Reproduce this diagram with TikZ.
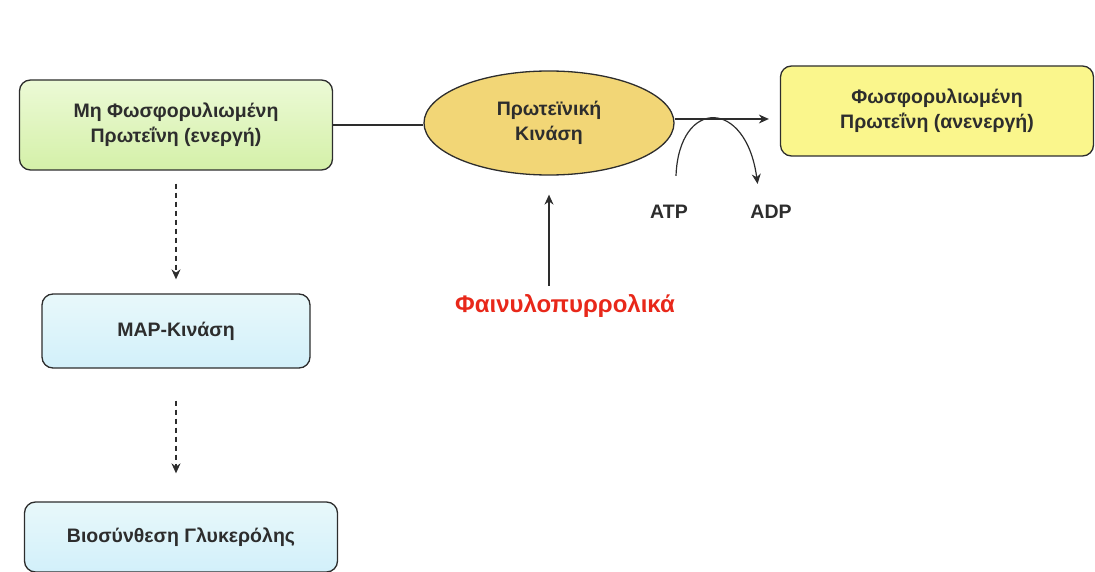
\documentclass[tikz,border=0pt]{standalone}
\usepackage{fontspec}
\setmainfont{Liberation Sans}
\usepackage{xcolor}
\usetikzlibrary{positioning, shapes.geometric, arrows.meta}

\definecolor{leafgreen}{RGB}{212,240,168}
\definecolor{leaflight}{RGB}{236,250,214}
\definecolor{kinasegold}{RGB}{242,214,118}
\definecolor{lemon}{RGB}{250,246,140}
\definecolor{iceblue}{RGB}{210,240,250}
\definecolor{icelight}{RGB}{232,248,250}
\definecolor{inhibred}{RGB}{232,40,26}
\definecolor{ink}{RGB}{45,45,45}

\tikzset{
  box/.style={draw=ink, line width=1.3pt, rounded corners=11pt, align=center,
    minimum width=313pt, minimum height=90pt, text=ink,
    font=\bfseries\fontsize{19.5}{25}\selectfont},
  smallbox/.style={box, minimum width=268pt, minimum height=74pt},
  enzyme/.style={ellipse, draw=ink, line width=1.3pt, fill=kinasegold, align=center,
    minimum width=250pt, minimum height=104pt, inner sep=0pt, text=ink,
    font=\bfseries\fontsize{19.5}{25}\selectfont},
  cofactor/.style={text=ink, font=\bfseries\fontsize{19.5}{23}\selectfont},
  link/.style={draw=ink, line width=1.2pt},
  flow/.style={link, dashed, dash pattern=on 5pt off 4pt}
}

\begin{document}
\begin{tikzpicture}[x=1pt, y=-1pt, node distance=206pt, on grid, >={Stealth[length=10pt, width=9pt]}]
        \useasboundingbox (0,0) rectangle (1095,572);

        % Κόμβοι
        \node[box, top color=leaflight, bottom color=leafgreen] (inactive) at (176,125)
            {Μη Φωσφορυλιωμένη\\Πρωτεΐνη (ενεργή)};
        \node[smallbox, top color=icelight, bottom color=iceblue] (mapk) [below=of inactive] {MAP-Κινάση};
        \node[box, minimum height=70pt, top color=icelight, bottom color=iceblue] (glycerol) at (181,537)
            {Βιοσύνθεση Γλυκερόλης};
        \node[enzyme] (kinase) at (549,123) {Πρωτεϊνική\\Κινάση};
        \node[box, fill=lemon] (phospho) at (937,111) {Φωσφορυλιωμένη\\Πρωτεΐνη (ανενεργή)};
        \node[text=inhibred, font=\bfseries\fontsize{24}{28}\selectfont] (phenyl) at (565,306) {Φαινυλοπυρρολικά};
        \node[cofactor] (atp) at (669,212) {ATP};
        \node[cofactor] (adp) at (771,212) {ADP};

        % Βέλη
        \path[link] (inactive.east) -- (kinase.west |- inactive.east);
        \path[link, ->] (kinase.east |- 0,119) -- ([xshift=-11pt]phospho.west |- 0,119);
        \draw[link, ->, shorten <=26pt, shorten >=18pt] (atp.north -| 675,0) .. controls (679,98) and (746,98) .. (adp.north -| 760,0);
        \draw[link, ->, shorten <=5pt, shorten >=19pt] (phenyl.north -| kinase.south) -- (kinase.south);
        \draw[flow, ->, shorten <=13pt, shorten >=14pt] (inactive) -- (mapk);
        \draw[flow, ->, shorten <=32pt, shorten >=28pt] (mapk) -- (mapk |- glycerol.north);
\end{tikzpicture}
\end{document}
